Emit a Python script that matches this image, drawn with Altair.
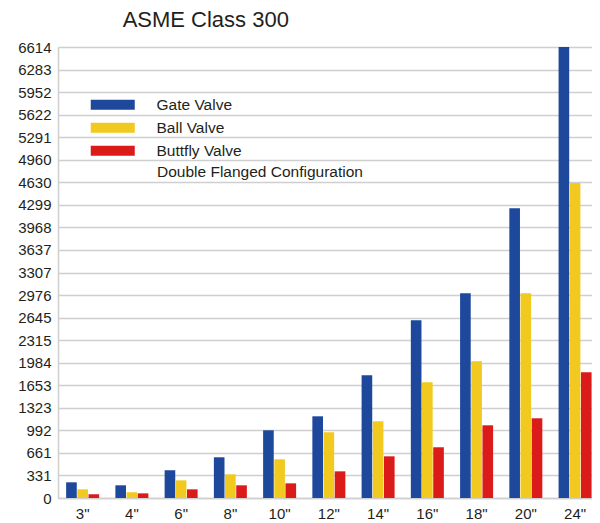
import altair as alt
import pandas as pd

sizes = ['3"', '4"', '6"', '8"', '10"', '12"', '14"', '16"', '18"', '20"', '24"']
gate = [230, 186, 406, 597, 993, 1198, 1800, 2607, 3003, 4251, 6614]
ball = [127, 83, 259, 347, 567, 964, 1125, 1697, 2006, 3003, 4620]
butterfly = [54, 68, 127, 186, 215, 391, 611, 744, 1066, 1169, 1844]
series = ["Gate Valve", "Ball Valve", "Buttfly Valve"]
colors = ["#1d489b", "#f1c91f", "#db1b19"]
legend_note = ["Double Flanged Configuration"]
y_ticks = [0, 331, 661, 992, 1323, 1653, 1984, 2315, 2645, 2976, 3307,
           3637, 3968, 4299, 4630, 4960, 5291, 5622, 5952, 6283, 6614]

rows = []
for i, s in enumerate(sizes):
    for name, vals in zip(series, [gate, ball, butterfly]):
        rows.append({"size": s, "valve": name, "value": vals[i]})
df = pd.DataFrame(rows)

FONT = "Liberation Sans"
TXT = "#231f20"
GRID = "#cfcfcf"
rect_path = "M-4.4,-1L4.4,-1L4.4,1L-4.4,1Z"

bars = alt.Chart(df).mark_bar().encode(
    x=alt.X("size:N", sort=sizes,
            scale=alt.Scale(paddingInner=0.33, paddingOuter=0.087, align=0.95),
            axis=alt.Axis(title=None, labelAngle=0, ticks=False, tickSize=0,
                          labelPadding=8, labelFontSize=15, labelFont=FONT,
                          labelColor=TXT, grid=False, domainColor=GRID,
                          domainWidth=1.5)),
    xOffset=alt.XOffset("valve:N", sort=series,
                        scale=alt.Scale(paddingInner=0.05)),
    y=alt.Y("value:Q", scale=alt.Scale(domain=[0, 6614], nice=False),
            axis=alt.Axis(title=None, values=y_ticks, format="d", ticks=False,
                          tickSize=0, labelPadding=7, labelFontSize=15,
                          labelFont=FONT, labelColor=TXT, grid=True,
                          gridColor=GRID, gridWidth=1.5, domainColor=GRID,
                          domainWidth=1.5)),
    color=alt.Color("valve:N", sort=series,
                    scale=alt.Scale(domain=series, range=colors),
                    legend=alt.Legend(
                        title=None, orient="none", legendX=47, legendY=50,
                        symbolType=rect_path, symbolSize=100,
                        symbolStrokeWidth=0, symbolOpacity=1,
                        labelOffset=36, labelFontSize=15.5, labelFont=FONT,
                        labelColor=TXT, rowPadding=6, padding=0,
                        labelLimit=400)),
)

note = alt.Chart(pd.DataFrame({"t": legend_note})).mark_text(
    align="left", baseline="middle", fontSize=15.5, font=FONT, color=TXT
).encode(text="t:N", x=alt.value(99), y=alt.value(125))

chart = alt.layer(bars, note).properties(
    width=534, height=451,
    title=alt.TitleParams("ASME Class 300", anchor="start", dx=105, offset=8,
                          fontSize=22, font=FONT, fontWeight="normal",
                          color=TXT),
    autosize=alt.AutoSizeParams(type="none"),
    padding={"left": 50, "top": 39, "right": 0, "bottom": 25},
).configure_view(strokeWidth=0)

chart.save("out.html", embed_options={"renderer": "svg", "actions": False})
